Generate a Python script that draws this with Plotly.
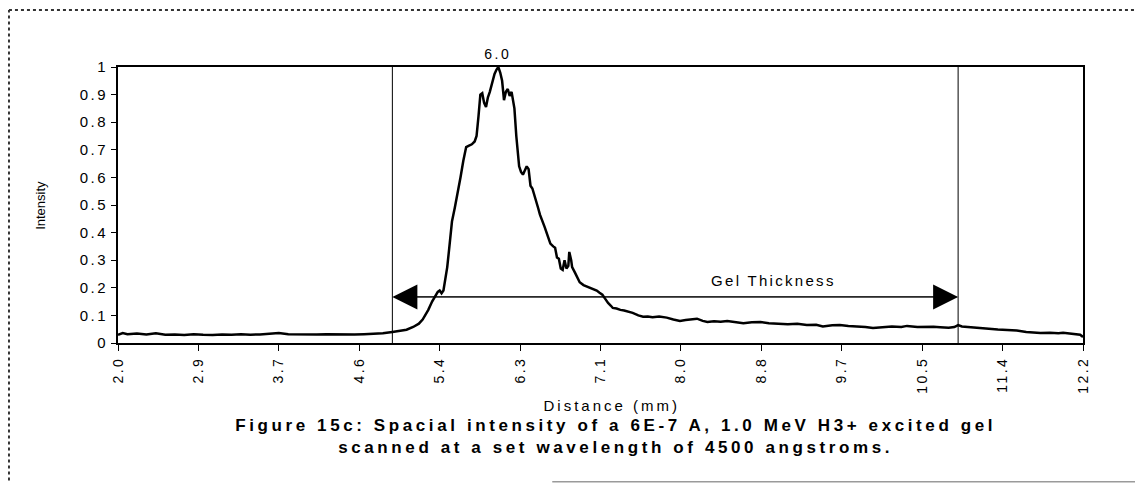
import plotly.graph_objects as go

# ---- data ----
distance_mm = [
    2.00, 2.05, 2.10, 2.20, 2.30, 2.40, 2.50, 2.60, 2.70, 2.80, 2.90, 3.00, 3.10, 3.20, 3.30,
    3.40, 3.50, 3.60, 3.70, 3.80, 3.90, 4.00, 4.10, 4.20, 4.30, 4.40, 4.50, 4.60, 4.70, 4.80,
    4.90, 4.95, 5.00, 5.05, 5.12, 5.18, 5.22, 5.28, 5.32, 5.35, 5.38, 5.40, 5.42, 5.44, 5.46,
    5.48, 5.50, 5.53, 5.56, 5.59, 5.62, 5.65, 5.68, 5.71, 5.74, 5.77, 5.79, 5.81, 5.83, 5.85,
    5.87, 5.89, 5.91, 5.93, 5.96, 5.98, 6.00, 6.02, 6.04, 6.06, 6.08, 6.10, 6.12, 6.14, 6.16,
    6.18, 6.19, 6.21, 6.24, 6.26, 6.28, 6.30, 6.32, 6.34, 6.36, 6.38, 6.41, 6.44, 6.46, 6.49,
    6.51, 6.54, 6.57, 6.60, 6.62, 6.64, 6.66, 6.68, 6.70, 6.72, 6.74, 6.76, 6.77, 6.79, 6.80,
    6.83, 6.85, 6.88, 6.92, 6.96, 6.99, 7.03, 7.06, 7.09, 7.12, 7.15, 7.18, 7.21, 7.23, 7.27,
    7.31, 7.35, 7.38, 7.41, 7.44, 7.50, 7.55, 7.60, 7.65, 7.72, 7.80, 7.87, 7.94, 8.00, 8.06,
    8.12, 8.18, 8.23, 8.30, 8.37, 8.44, 8.52, 8.61, 8.70, 8.79, 8.88, 8.98, 9.08, 9.18, 9.28,
    9.38, 9.45, 9.55, 9.63, 9.72, 9.82, 9.90, 9.98, 10.08, 10.18, 10.28, 10.34, 10.45, 10.55,
    10.62, 10.69, 10.78, 10.84, 10.88, 10.92, 10.98, 11.04, 11.12, 11.20, 11.30, 11.40, 11.50,
    11.60, 11.68, 11.75, 11.85, 11.94, 11.99, 12.05, 12.12, 12.17, 12.20,
]
intensity = [
    0.030, 0.036, 0.032, 0.034, 0.031, 0.035, 0.030, 0.031, 0.029, 0.032, 0.030, 0.029, 0.031, 0.030, 0.032,
    0.030, 0.031, 0.033, 0.036, 0.032, 0.031, 0.030, 0.031, 0.032, 0.031, 0.032, 0.031, 0.032, 0.033, 0.035,
    0.040, 0.042, 0.045, 0.048, 0.058, 0.070, 0.085, 0.120, 0.150, 0.167, 0.185, 0.190, 0.180, 0.190, 0.230,
    0.275, 0.340, 0.440, 0.490, 0.540, 0.600, 0.660, 0.710, 0.715, 0.720, 0.730, 0.750, 0.820, 0.900, 0.905,
    0.870, 0.855, 0.890, 0.910, 0.950, 0.975, 0.990, 1.000, 0.980, 0.950, 0.880, 0.910, 0.920, 0.895, 0.910,
    0.870, 0.850, 0.750, 0.640, 0.620, 0.610, 0.625, 0.640, 0.630, 0.570, 0.560, 0.520, 0.490, 0.465, 0.440,
    0.420, 0.390, 0.360, 0.350, 0.345, 0.310, 0.305, 0.270, 0.265, 0.300, 0.270, 0.280, 0.330, 0.300, 0.275,
    0.255, 0.240, 0.220, 0.210, 0.205, 0.200, 0.195, 0.190, 0.182, 0.175, 0.160, 0.145, 0.135, 0.127, 0.125,
    0.120, 0.118, 0.115, 0.112, 0.109, 0.100, 0.095, 0.096, 0.093, 0.096, 0.092, 0.085, 0.080, 0.083, 0.086,
    0.088, 0.080, 0.076, 0.079, 0.077, 0.080, 0.076, 0.072, 0.075, 0.076, 0.072, 0.070, 0.068, 0.070, 0.065,
    0.066, 0.060, 0.064, 0.065, 0.062, 0.060, 0.058, 0.054, 0.058, 0.060, 0.058, 0.062, 0.058, 0.060,
    0.059, 0.057, 0.055, 0.058, 0.065, 0.060, 0.058, 0.056, 0.054, 0.050, 0.049, 0.047, 0.045,
    0.040, 0.038, 0.036, 0.037, 0.035, 0.037, 0.034, 0.032, 0.030, 0.022,
]

x_tick_positions = [2.0, 2.85, 3.7, 4.55, 5.4, 6.25, 7.1, 7.95, 8.8, 9.65, 10.5, 11.35, 12.2]
x_tick_labels = ["2.0", "2.9", "3.7", "4.6", "5.4", "6.3", "7.1", "8.0", "8.8", "9.7", "10.5", "11.4", "12.2"]
y_tick_values = [0, 0.1, 0.2, 0.3, 0.4, 0.5, 0.6, 0.7, 0.8, 0.9, 1]
y_tick_labels = ["0", "0.1", "0.2", "0.3", "0.4", "0.5", "0.6", "0.7", "0.8", "0.9", "1"]

gel_start_mm = 4.9
gel_end_mm = 10.88
arrow_level = 0.167
peak_mm = 6.02
peak_label = "6.0"

FONT = "Arial, Liberation Sans, sans-serif"

fig = go.Figure()
fig.add_trace(go.Scatter(x=distance_mm, y=intensity, mode="lines",
                         line=dict(color="black", width=2.5), showlegend=False, hoverinfo="skip"))

# gel boundaries
for xv in (gel_start_mm, gel_end_mm):
    fig.add_shape(type="line", xref="x", yref="y", x0=xv, x1=xv, y0=0, y1=1,
                  line=dict(color="black", width=1))

# double arrow
for tip, tail in ((gel_start_mm, gel_end_mm), (gel_end_mm, gel_start_mm)):
    fig.add_annotation(x=tip, y=arrow_level, ax=tail, ay=arrow_level, xref="x", yref="y",
                       axref="x", ayref="y", text="", showarrow=True, arrowhead=2,
                       arrowsize=5, arrowwidth=1, arrowcolor="black")

fig.add_annotation(x=8.93, y=0.228, xref="x", yref="y", text="Gel Thickness", showarrow=False,
                   font=dict(family=FONT, size=15, color="black"))
fig.add_annotation(x=peak_mm, y=1.0, xref="x", yref="y", text=peak_label, showarrow=False,
                   yanchor="bottom", yshift=3, font=dict(family=FONT, size=14, color="black"))

# axis titles and caption
fig.add_annotation(x=-0.081, y=0.5, xref="paper", yref="paper", text="Intensity", textangle=-90,
                   xanchor="center", yanchor="middle",
                   showarrow=False, font=dict(family=FONT, size=13, color="black"))
fig.add_annotation(x=0.512, y=-0.226, xref="paper", yref="paper", text="Distance (mm)",
                   xanchor="center", yanchor="middle",
                   showarrow=False, font=dict(family=FONT, size=15, color="black"))
fig.add_annotation(x=0.516, y=-0.298, xref="paper", yref="paper",
                   text="Figure 15c: Spacial intensity of a 6E-7 A, 1.0 MeV H3+ excited gel",
                   xanchor="center", yanchor="middle",
                   showarrow=False, font=dict(family=FONT, size=17, color="black", weight="bold"))
fig.add_annotation(x=0.516, y=-0.378, xref="paper", yref="paper",
                   text="scanned at a set wavelength of 4500 angstroms.",
                   xanchor="center", yanchor="middle",
                   showarrow=False, font=dict(family=FONT, size=17, color="black", weight="bold"))

# dotted outer frame (top and left), faint line at the bottom right
fig.add_shape(type="line", xref="paper", yref="paper", x0=-0.113, x1=1.07, y0=1.2065, y1=1.2065,
              line=dict(color="#333333", width=2, dash="dot"), layer="below")
fig.add_shape(type="line", xref="paper", yref="paper", x0=-0.113, x1=-0.113, y0=-0.52, y1=1.2065,
              line=dict(color="#333333", width=2, dash="dot"), layer="below")
fig.add_shape(type="line", xref="paper", yref="paper", x0=0.45, x1=1.07, y0=-0.503, y1=-0.503,
              line=dict(color="#9a9a9a", width=1.5), layer="below")

fig.update_xaxes(range=[2.0, 12.2], tickmode="array", tickvals=x_tick_positions, ticktext=x_tick_labels,
                 tickangle=-90, ticks="outside", ticklen=6, tickwidth=1, tickcolor="black",
                 showline=True, linecolor="black", linewidth=2, mirror=True, showgrid=False,
                 zeroline=False, tickfont=dict(family=FONT, size=14, color="black"))
fig.update_yaxes(range=[0, 1], tickmode="array", tickvals=y_tick_values, ticktext=y_tick_labels,
                 ticks="outside", ticklen=5, tickwidth=1, tickcolor="black",
                 showline=True, linecolor="black", linewidth=2, mirror=True, showgrid=False,
                 zeroline=False, tickfont=dict(family=FONT, size=15, color="black"))

# page body has an 8px margin, so the figure is 8px smaller and margins shifted
fig.update_layout(width=1135, height=475, margin=dict(l=110, r=60, t=59, b=140),
                  plot_bgcolor="white", paper_bgcolor="white", showlegend=False)

letter_spacing_js = """
var gd = document.getElementById('{plot_id}');
function applySpacing(){
  gd.querySelectorAll('text.annotation-text').forEach(function(t){
    var s = t.textContent || '';
    if (s.indexOf('Figure') === 0 || s.indexOf('scanned') === 0) { t.style.letterSpacing = '3.6px'; }
    else if (s.indexOf('Distance') === 0) { t.style.letterSpacing = '3px'; }
    else if (s.indexOf('Gel') === 0) { t.style.letterSpacing = '2.3px'; }
    else if (s === '6.0') { t.style.letterSpacing = '2.5px'; }
  });
  gd.querySelectorAll('.xtick text, .ytick text').forEach(function(t){ t.style.letterSpacing = '2.5px'; });
}
applySpacing();
gd.on('plotly_afterplot', applySpacing);
"""

fig.write_html("out.html", post_script=letter_spacing_js)
